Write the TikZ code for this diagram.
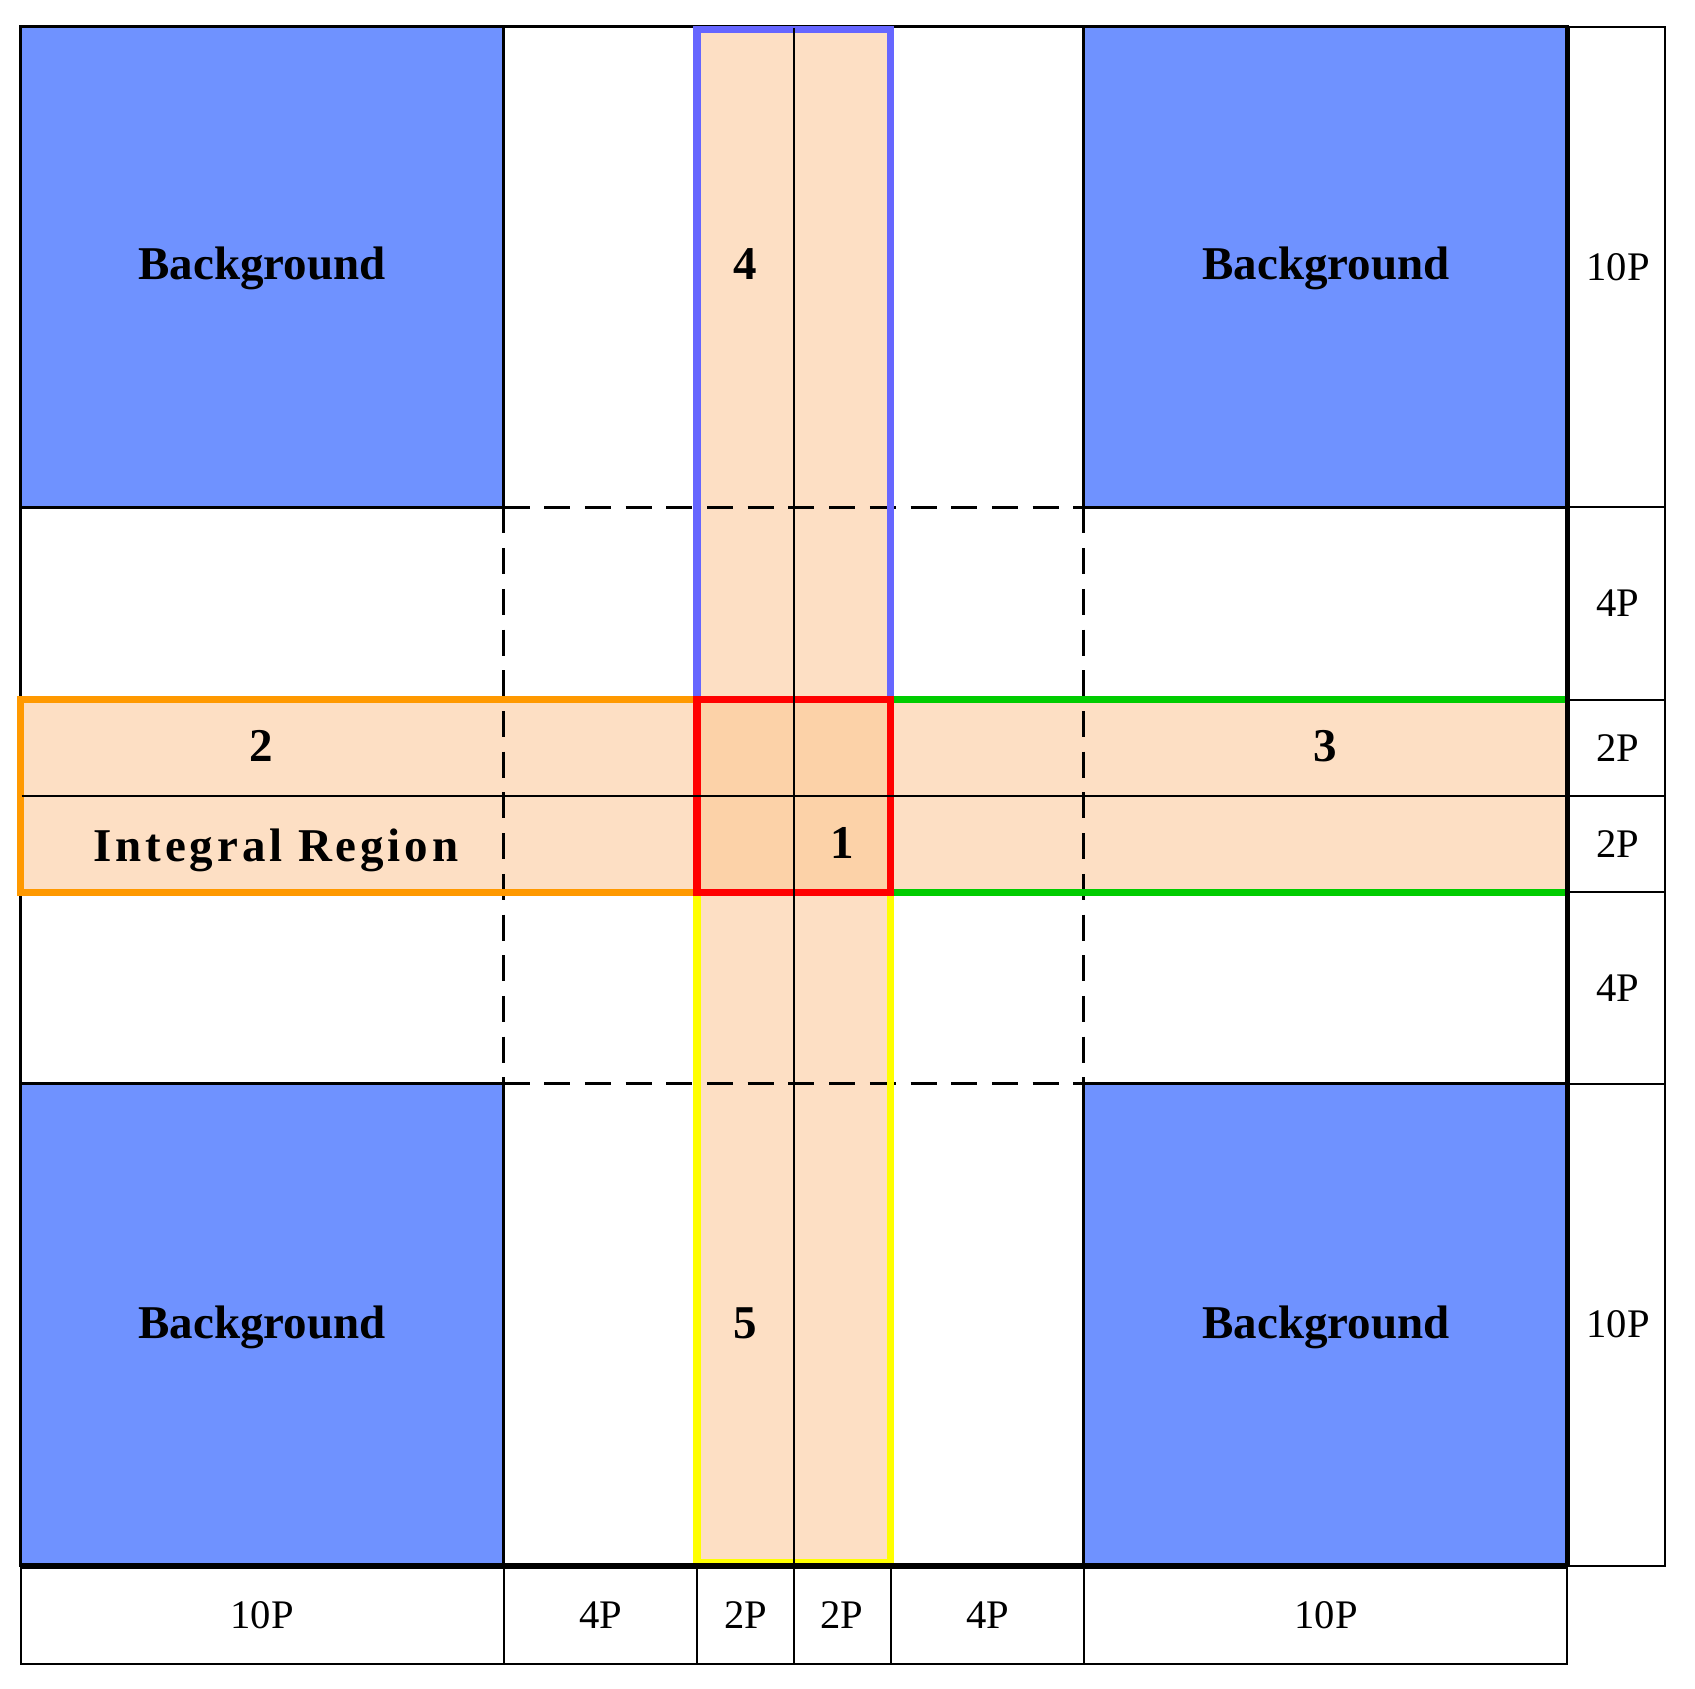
\documentclass[tikz,border=0pt]{standalone}
\usepackage{fontspec}
\setmainfont{Liberation Serif}
\definecolor{bgblue}{RGB}{111,146,255}
\definecolor{peach}{RGB}{253,223,196}
\definecolor{peachdark}{RGB}{252,210,168}
\definecolor{bluestroke}{RGB}{102,102,255}
\definecolor{orangestroke}{RGB}{255,153,0}
\definecolor{greenstroke}{RGB}{0,204,0}
\definecolor{yellowstroke}{RGB}{255,255,0}
\definecolor{redstroke}{RGB}{255,0,0}
\begin{document}
\begin{tikzpicture}[x=0.5pt,y=-0.5pt,
  bigtxt/.style={font=\fontsize{23.5}{28}\selectfont\bfseries, inner sep=0pt, anchor=base},
  lbl/.style={font=\fontsize{20.3}{24}\selectfont, inner sep=0pt, anchor=base},
  bgsq/.style={fill=bgblue, draw=black, line width=1.5pt},
  dashline/.style={draw=black, line width=1.65pt, dash pattern=on 13pt off 7.35pt},
  cell/.style={draw=black, line width=1pt},
  band/.style={line width=3.65pt},
  thin/.style={draw=black, line width=1pt}]
\useasboundingbox (0,0) rectangle (1695,1689);
\fill[white] (0,0) rectangle (1695,1689);
% fills
\fill[peach] (697,26.7) rectangle (890.5,1565.5);
\fill[peach] (20.5,699.7) rectangle (1567,892.3);
\fill[peachdark] (697,699.7) rectangle (890.5,892.3);
% background squares
\draw[bgsq] (20.5,26.7) rectangle (503.5,507.5);
\draw[bgsq] (1083.5,26.7) rectangle (1567,507.5);
\draw[bgsq] (20.5,1083.7) rectangle (503.5,1565.5);
\draw[bgsq] (1083.5,1083.7) rectangle (1567,1565.5);
% dashed square
\draw[dashline] (503.5,507.5) -- (1083.5,507.5);
\draw[dashline] (503.5,1083.7) -- (1083.5,1083.7);
\draw[dashline] (503.5,507.5) -- (503.5,1083.7);
\draw[dashline] (1083.5,507.5) -- (1083.5,1083.7);
% main outline
\draw[draw=black, line width=1.4pt] (20.5,26.7) rectangle (1567,1565.5);
% right label column
\draw[cell] (1567,26.7) rectangle (1665,507.5);
\draw[cell] (1567,507.5) rectangle (1665,699.7);
\draw[cell] (1567,699.7) rectangle (1665,796);
\draw[cell] (1567,796) rectangle (1665,892.3);
\draw[cell] (1567,892.3) rectangle (1665,1083.7);
\draw[cell] (1567,1083.7) rectangle (1665,1565.5);
% bottom label row
\draw[cell] (20.5,1566) rectangle (503.5,1664);
\draw[cell] (503.5,1566) rectangle (697,1664);
\draw[cell] (697,1566) rectangle (794,1664);
\draw[cell] (794,1566) rectangle (890.5,1664);
\draw[cell] (890.5,1566) rectangle (1083.5,1664);
\draw[cell] (1083.5,1566) rectangle (1567,1664);
% coloured regions
\draw[band, yellowstroke] (697,892.3) rectangle (890.5,1562.5);
\draw[band, bluestroke] (697,29.5) rectangle (890.5,699.7);
\draw[band, orangestroke] (20.7,699.7) rectangle (697,892.3);
\draw[band, greenstroke] (1566,699.7) -- (890.5,699.7) -- (890.5,892.3) -- (1566,892.3);
\draw[band, redstroke] (697,699.7) rectangle (890.5,892.3);
% thin centre lines
\draw[thin] (794,28) -- (794,1565.5);
\draw[thin] (21.5,796) -- (1567,796);
% thick shared edges
\draw[draw=black, line width=2.75pt] (20.5,1566) -- (1567,1566);
\draw[draw=black, line width=2.1pt] (1567.5,26.7) -- (1567.5,1566);
% texts
\node[bigtxt] (bgtl) at (262,280) {Background};
\node[bigtxt] (bgtr) at (1326,280) {Background};
\node[bigtxt] (bgbl) at (262,1338) {Background};
\node[bigtxt] (bgbr) at (1326,1338) {Background};
\node[bigtxt] (r4) at (745.5,280) {4};
\node[bigtxt] (r5) at (745.5,1338) {5};
\node[bigtxt] (r2) at (261,761.5) {2};
\node[bigtxt] (r3) at (1325,761.5) {3};
\node[bigtxt] (r1) at (842,858) {1};
\node[bigtxt] (intreg) at (276,861) {\addfontfeature{LetterSpace=8.2}Integral Region};
% right labels
\node[lbl] (ra) at (1618,280.5) {10P};
\node[lbl] (rb) at (1618,617) {4P};
\node[lbl] (rc) at (1618,761.5) {2P};
\node[lbl] (rd) at (1618,857.5) {2P};
\node[lbl] (re) at (1618,1001.5) {4P};
\node[lbl] (rf) at (1618,1337.5) {10P};
% bottom labels
\node[lbl] (ba) at (262,1628.5) {10P};
\node[lbl] (bb) at (601,1628.5) {4P};
\node[lbl] (bc) at (745.5,1628.5) {2P};
\node[lbl] (bd) at (842,1628.5) {2P};
\node[lbl] (be) at (988,1628.5) {4P};
\node[lbl] (bf) at (1326,1628.5) {10P};
\end{tikzpicture}
\end{document}
